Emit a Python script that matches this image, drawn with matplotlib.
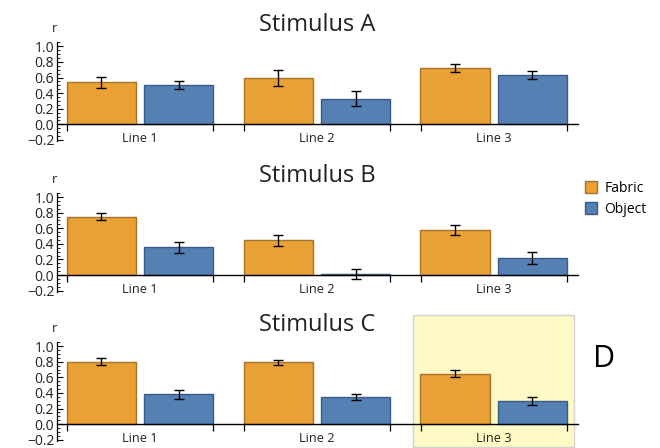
import matplotlib
matplotlib.use("Agg")
import matplotlib.pyplot as plt
from matplotlib.patches import Rectangle, Patch
import numpy as np

plt.rcParams['font.family'] = ['Open Sans', 'DejaVu Sans']

categories = ["Line 1", "Line 2", "Line 3"]
panels = ["Stimulus A", "Stimulus B", "Stimulus C"]
series = ["Fabric", "Object"]
fabric = [[0.54, 0.59, 0.72], [0.75, 0.445, 0.575], [0.80, 0.79, 0.645]]
fabric_err = [[0.068, 0.10, 0.05], [0.048, 0.067, 0.062], [0.042, 0.028, 0.043]]
obj = [[0.50, 0.33, 0.63], [0.355, 0.01, 0.22], [0.38, 0.35, 0.295]]
obj_err = [[0.05, 0.10, 0.05], [0.07, 0.064, 0.077], [0.058, 0.036, 0.05]]
yticks = [-0.2, 0.0, 0.2, 0.4, 0.6, 0.8, 1.0]
ytick_labels = ["\u22120.2", "0.0", "0.2", "0.4", "0.6", "0.8", "1.0"]

orange, orange_edge = "#E9A035", "#A6732A"
blue, blue_edge = "#5480B4", "#395C86"

W, H = 660, 448
fig = plt.figure(figsize=(W / 100, H / 100), dpi=100)

left, width = 57 / W, 521 / W
bottoms = [(H - 141.5) / H, (H - 292.2) / H, (H - 441.3) / H]
height = 99.1 / H

x = np.arange(len(categories))
bw, off, half = 0.392, 0.2185, 0.414

for i, title in enumerate(panels):
    ax = fig.add_axes([left, bottoms[i], width, height])
    ax.set_facecolor("none")
    ax.bar(x - off, fabric[i], bw, color=orange, edgecolor=orange_edge, linewidth=1, zorder=2)
    ax.bar(x + off, obj[i], bw, color=blue, edgecolor=blue_edge, linewidth=1, zorder=2)
    ax.errorbar(x - off, fabric[i], yerr=fabric_err[i], fmt="none", ecolor="black",
                elinewidth=1, capsize=3.5, capthick=1, zorder=3)
    ax.errorbar(x + off, obj[i], yerr=obj_err[i], fmt="none", ecolor="black",
                elinewidth=1, capsize=3.5, capthick=1, zorder=3)
    ax.set_xlim(-0.469, 2.476)
    ax.set_ylim(-0.22, 1.05)
    for s in ["top", "right"]:
        ax.spines[s].set_visible(False)
    ax.spines["bottom"].set_position(("data", 0))
    ax.spines["bottom"].set_zorder(4)
    ax.spines["left"].set_linewidth(0.9)
    ax.spines["bottom"].set_linewidth(1.0)
    ax.set_yticks(yticks)
    ax.set_yticklabels(ytick_labels, fontsize=10, color="#222222")
    ax.set_yticks(np.arange(-0.2, 1.051, 0.05), minor=True)
    ax.tick_params(axis="y", which="major", direction="in", length=4.5, width=0.8, pad=2)
    ax.tick_params(axis="y", which="minor", direction="in", length=2.2, width=0.6)
    # category axis
    ax.set_xticks(x)
    ax.set_xticklabels(categories, fontsize=9.2, color="#222222")
    ax.tick_params(axis="x", which="major", length=0, pad=5.5)
    edges = np.concatenate([x - half, x + half])
    ax.set_xticks(edges, minor=True)
    ax.tick_params(axis="x", which="minor", direction="out", length=5, width=0.9)
    ax.set_title(title, fontsize=17, pad=8, color="#222222")
    fig.text(55 / W, bottoms[i] + height + 14 / H, "r", fontsize=9.5, ha="center",
             va="center", color="#222222")

# highlight box behind panel C, Line 3
rect = Rectangle((412.7 / W, 1 - 446.7 / H), (574.3 - 412.7) / W, (446.7 - 315) / H,
                 transform=fig.transFigure, facecolor="#FFFAC5", edgecolor="#D2D2D2",
                 linewidth=1, zorder=-1)
fig.patches.append(rect)

fig.text(604 / W, 1 - 359 / H, "D", fontsize=22, ha="center", va="center", color="black")

handles = [Patch(facecolor=orange, edgecolor=orange_edge, label=series[0]),
           Patch(facecolor=blue, edgecolor=blue_edge, label=series[1])]
fig.legend(handles=handles, loc="upper left", bbox_to_anchor=(582 / W, 1 - 178 / H),
           frameon=False, fontsize=10, handlelength=0.9, handleheight=0.9,
           handletextpad=0.5, labelspacing=0.45, borderaxespad=0, borderpad=0.2)

fig.savefig("out.png", dpi=100)
